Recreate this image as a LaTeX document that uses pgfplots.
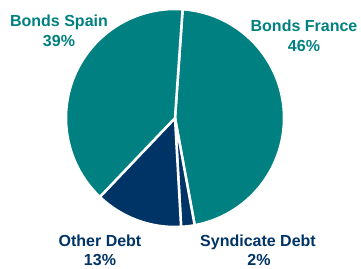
\documentclass[border=0pt]{standalone}
\usepackage{pgfplots}
\pgfplotsset{compat=1.18}
\usepackage{pgfplotstable}
\usepackage{fontspec}
\setmainfont{Liberation Sans}
\definecolor{tealA}{RGB}{0,128,128}
\definecolor{navyA}{RGB}{0,51,102}
\pgfplotstableread{
label value
France 46
Syndicate 2
Other 13
Spain 39
}\slices
\begin{document}
\begin{tikzpicture}
\pgfplotstablegetelem{0}{value}\of\slices \pgfmathsetmacro\va{\pgfplotsretval}
\pgfplotstablegetelem{1}{value}\of\slices \pgfmathsetmacro\vb{\pgfplotsretval}
\pgfplotstablegetelem{2}{value}\of\slices \pgfmathsetmacro\vc{\pgfplotsretval}
\pgfplotstablegetelem{3}{value}\of\slices \pgfmathsetmacro\vd{\pgfplotsretval}
\pgfmathsetmacro\aA{86}
\pgfmathsetmacro\aB{\aA-3.6*\va}
\pgfmathsetmacro\aC{\aB-3.6*\vb}
\pgfmathsetmacro\aD{\aC-3.6*\vc}
\pgfmathsetmacro\aE{\aD-3.6*\vd}
\begin{axis}[scale only axis, width=361pt, height=268pt,
  xmin=0, xmax=361, ymin=0, ymax=268, hide axis, clip=false]
\path (axis cs:0,0) rectangle (axis cs:361,268);
\def\slice#1#2#3{\fill[#3, draw=white, line width=2.5pt, line join=round] (axis cs:175,150) -- ++(#1:109pt) arc[start angle=#1, end angle=#2, radius=109pt] -- cycle;}
\slice{\aA}{\aB}{tealA}
\slice{\aB}{\aC}{navyA}
\slice{\aC}{\aD}{navyA}
\slice{\aD}{\aE}{tealA}
\tikzset{lab/.style={anchor=base, inner sep=0pt, font=\bfseries\fontsize{16}{19}\selectfont}}
\node[lab, text=tealA] at (axis cs:59,241) {Bonds Spain};
\node[lab, text=tealA] at (axis cs:59,221) {39\%};
\node[lab, text=tealA] at (axis cs:304,236) {Bonds France};
\node[lab, text=tealA] at (axis cs:304,216) {46\%};
\node[lab, text=navyA] at (axis cs:100,22) {Other Debt};
\node[lab, text=navyA] at (axis cs:100,3) {13\%};
\node[lab, text=navyA] at (axis cs:258,22) {Syndicate Debt};
\node[lab, text=navyA] at (axis cs:259,3) {2\%};
\end{axis}
\end{tikzpicture}
\end{document}
